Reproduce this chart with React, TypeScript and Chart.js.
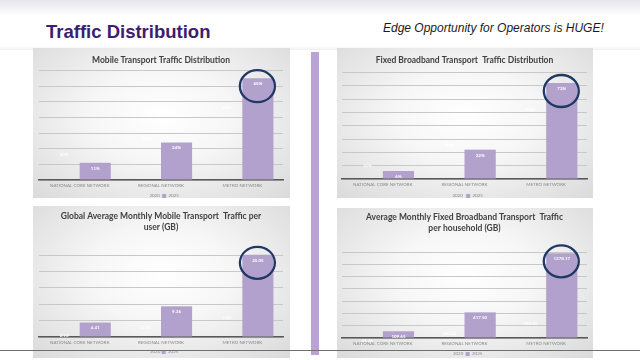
import React, { useEffect, useRef } from 'react';
import { Chart, registerables } from 'chart.js';

Chart.register(...registerables);

// ---------- data ----------
const categories = ['NATIONAL CORE NETWORK', 'REGIONAL NETWORK', 'METRO NETWORK'];
const seriesNames = ['2020', '2025'];

const mobileShare2020 = [20, 30, 50];
const mobileShare2025 = [11, 24, 65];

const fixedShare2020 = [14, 30, 56];
const fixedShare2025 = [6, 22, 72];

const mobileGb2020 = [2.1, 4.7, 7.52];
const mobileGb2025 = [4.41, 9.36, 25.05];

const fixedGb2020 = [41.36, 160.24, 330.05];
const fixedGb2025 = [109.65, 417.5, 1378.17];

const chartTitles = [
  'Mobile Transport Traffic Distribution',
  'Fixed Broadband Transport  Traffic Distribution',
  ['Global Average Monthly Mobile Transport  Traffic per', 'user (GB)'],
  ['Average Monthly Fixed Broadband Transport  Traffic', 'per household (GB)'],
];

const BAR = '#b2a1cc';
const FONT = 'Lato, "Open Sans", sans-serif';

type Cfg = {
  title: string | string[];
  d2020: number[];
  d2025: number[];
  max: number;
  step: number;
  fmt: (v: number) => string;
  box: { left: number; top: number; width: number; height: number };
  titlePad: { top: number; bottom: number };
  pad: { left: number; right: number; bottom: number };
  legendPad: number;
};

const pct = (v: number) => `${v}%`;
const dec = (v: number) => v.toFixed(2);

function MiniChart({ cfg }: { cfg: Cfg }) {
  const ref = useRef<HTMLCanvasElement | null>(null);
  useEffect(() => {
    if (!ref.current) return;
    const labelPlugin = {
      id: 'valueLabels',
      afterDatasetsDraw(chart: any) {
        const ctx = chart.ctx;
        ctx.save();
        ctx.font = `bold 4.5px ${FONT}`;
        ctx.textAlign = 'center';
        ctx.textBaseline = 'middle';
        chart.data.datasets.forEach((ds: any, di: number) => {
          const meta = chart.getDatasetMeta(di);
          meta.data.forEach((el: any, i: number) => {
            ctx.fillStyle = di === 0 ? 'rgba(255,255,255,0.95)' : '#ffffff';
            ctx.fillText(cfg.fmt(ds.data[i]), el.x, el.y + 5.5);
          });
        });
        ctx.restore();
      },
    };
    const circlePlugin = {
      id: 'circleHighlight',
      afterDatasetsDraw(chart: any) {
        const meta = chart.getDatasetMeta(1);
        const el = meta.data[meta.data.length - 1];
        if (!el) return;
        const ctx = chart.ctx;
        ctx.save();
        ctx.strokeStyle = '#1f3864';
        ctx.lineWidth = 2.3;
        ctx.beginPath();
        ctx.ellipse(el.x - 0.5, el.y + 8, 17.5, 16, 0, 0, Math.PI * 2);
        ctx.stroke();
        ctx.restore();
      },
    };
    const chart = new Chart(ref.current, {
      type: 'bar',
      data: {
        labels: categories,
        datasets: [
          {
            label: seriesNames[0],
            data: cfg.d2020,
            backgroundColor: 'rgba(255,255,255,0)',
            borderWidth: 0,
          },
          {
            label: seriesNames[1],
            data: cfg.d2025,
            backgroundColor: BAR,
            borderWidth: 0,
            clip: false as any,
          },
        ],
      },
      options: {
        responsive: false,
        animation: false,
        layout: {
          padding: { left: cfg.pad.left, right: cfg.pad.right, top: 0, bottom: cfg.pad.bottom },
        },
        datasets: {
          bar: { categoryPercentage: 0.765, barPercentage: 1 },
        },
        scales: {
          x: {
            grid: { display: false, drawTicks: false },
            border: { display: true, color: '#595959', width: 1.5 },
            ticks: {
              color: '#8a8a8a',
              font: { family: FONT, size: 4.5 },
              padding: 3,
              maxRotation: 0,
              autoSkip: false,
            },
          },
          y: {
            min: 0,
            max: cfg.max,
            ticks: { display: false, stepSize: cfg.step },
            grid: { color: '#c8c8c8', lineWidth: 1, drawTicks: false },
            border: { display: false },
          },
        },
        plugins: {
          title: {
            display: true,
            text: cfg.title,
            color: '#404040',
            font: { family: FONT, size: 8.5, weight: 'bold', lineHeight: 1.3 },
            padding: cfg.titlePad,
          },
          legend: {
            display: true,
            position: 'bottom',
            labels: {
              color: '#8a8a8a',
              font: { family: FONT, size: 4.5 },
              boxWidth: 4,
              boxHeight: 4,
              padding: cfg.legendPad,
            },
          },
          tooltip: { enabled: false },
        },
      },
      plugins: [labelPlugin, circlePlugin],
    });
    return () => chart.destroy();
  }, []);
  const { left, top, width, height } = cfg.box;
  return (
    <div
      style={{
        position: 'absolute',
        left,
        top,
        width,
        height,
        background: 'radial-gradient(ellipse at 50% 45%, #ffffff 0%, #f6f6f6 40%, #dadada 100%)',
      }}
    >
      <canvas ref={ref} width={width} height={height} style={{ display: 'block', width, height }} />
    </div>
  );
}

const configs: Cfg[] = [
  {
    title: chartTitles[0],
    d2020: mobileShare2020,
    d2025: mobileShare2025,
    max: 70,
    step: 10,
    fmt: pct,
    box: { left: 33, top: 48, width: 257, height: 150 },
    titlePad: { top: 6.7, bottom: 4.6 },
    pad: { left: 6, right: 7, bottom: -10.25 },
    legendPad: 2.35,
  },
  {
    title: chartTitles[1],
    d2020: fixedShare2020,
    d2025: fixedShare2025,
    max: 80,
    step: 10,
    fmt: pct,
    box: { left: 337, top: 48, width: 256, height: 150 },
    titlePad: { top: 6.7, bottom: 6.6 },
    pad: { left: 5, right: 6, bottom: -10.25 },
    legendPad: 3.35,
  },
  {
    title: chartTitles[2],
    d2020: mobileGb2020,
    d2025: mobileGb2025,
    max: 25,
    step: 5,
    fmt: dec,
    box: { left: 33, top: 206, width: 257, height: 152 },
    titlePad: { top: 4.5, bottom: 22.4 },
    pad: { left: 6, right: 7, bottom: -6.25 },
    legendPad: 1.35,
  },
  {
    title: chartTitles[3],
    d2020: fixedGb2020,
    d2025: fixedGb2025,
    max: 1400,
    step: 200,
    fmt: dec,
    box: { left: 337, top: 208, width: 256, height: 150 },
    titlePad: { top: 3.5, bottom: 18.4 },
    pad: { left: 5, right: 6, bottom: -8.25 },
    legendPad: 2.35,
  },
];

export default function App() {
  useEffect(() => {
    document.body.style.margin = '0';
  }, []);
  return (
    <div
      style={{
        position: 'relative',
        width: 640,
        height: 360,
        overflow: 'hidden',
        background: '#ffffff',
        fontFamily: '"Liberation Sans", Arial, sans-serif',
      }}
    >
      <div
        style={{
          position: 'absolute',
          left: 0,
          top: 0,
          width: 640,
          height: 16,
          background: 'linear-gradient(#e7e7ec, #ffffff)',
        }}
      />
      <div
        style={{
          position: 'absolute',
          left: 0,
          top: 46,
          width: 640,
          height: 4,
          background: 'linear-gradient(#ffffff, #f0f0f2)',
        }}
      />
      <div
        style={{
          position: 'absolute',
          left: 46,
          top: 23,
          fontSize: 18.5,
          fontWeight: 'bold',
          color: '#3c1d6e',
          whiteSpace: 'nowrap',
          lineHeight: 1,
        }}
      >
        Traffic Distribution
      </div>
      <div
        style={{
          position: 'absolute',
          left: 383,
          top: 22,
          fontSize: 12,
          fontStyle: 'italic',
          color: '#1a1a1a',
          whiteSpace: 'nowrap',
          lineHeight: 1,
        }}
      >
        Edge Opportunity for Operators is HUGE!
      </div>
      {configs.map((c, i) => (
        <MiniChart key={i} cfg={c} />
      ))}
      <div
        style={{
          position: 'absolute',
          left: 311,
          top: 52,
          width: 8,
          height: 303,
          background: '#b9a3d6',
        }}
      />
      <div
        style={{
          position: 'absolute',
          left: 0,
          top: 350,
          width: 640,
          height: 1,
          background: '#6e6e6e',
        }}
      />
    </div>
  );
}
